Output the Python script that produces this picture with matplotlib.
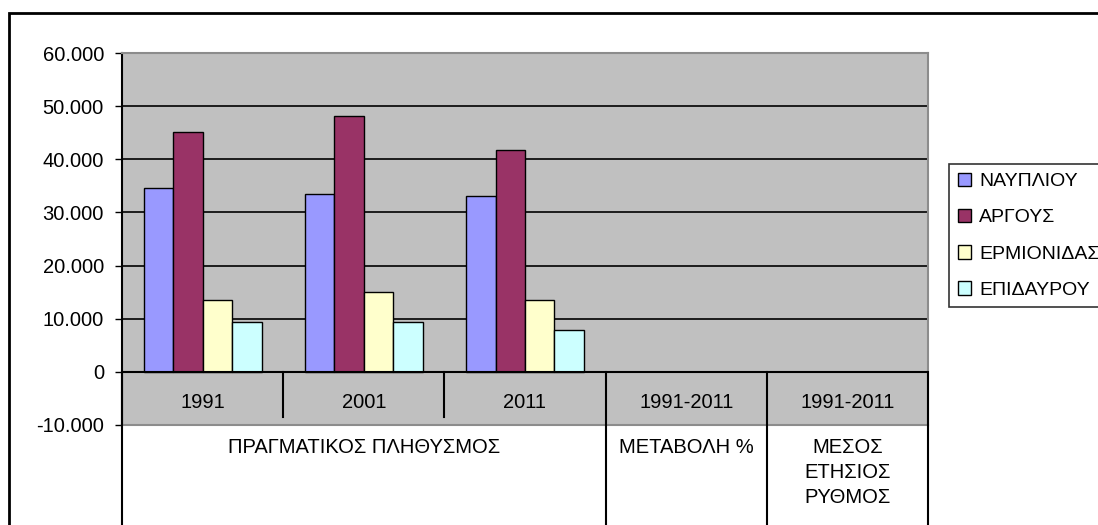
import numpy as np
import matplotlib
matplotlib.use("Agg")
import matplotlib.pyplot as plt
from matplotlib.patches import Rectangle, Patch

plt.rcParams['font.family'] = ['Liberation Sans', 'DejaVu Sans']

# data
years = ['1991', '2001', '2011']
cat_labels = ['1991', '2001', '2011', '1991-2011', '1991-2011']
groups = ['ΠΡΑΓΜΑΤΙΚΟΣ ΠΛΗΘΥΣΜΟΣ', 'ΜΕΤΑΒΟΛΗ %', 'ΜΕΣΟΣ\nΕΤΗΣΙΟΣ\nΡΥΘΜΟΣ']
group_span = [(0, 3), (3, 4), (4, 5)]
series = ['ΝΑΥΠΛΙΟΥ', 'ΑΡΓΟΥΣ', 'ΕΡΜΙΟΝΙΔΑΣ', 'ΕΠΙΔΑΥΡΟΥ']
nafplio = [34600, 33500, 33100]
argos = [45100, 48200, 41800]
ermionida = [13600, 15100, 13600]
epidavros = [9300, 9300, 7900]
values = [nafplio, argos, ermionida, epidavros]
colors = ['#9999FF', '#993366', '#FFFFCC', '#CCFFFF']

W, H = 1098, 525
fig = plt.figure(figsize=(W/100, H/100), dpi=100)
ax = fig.add_axes([122/W, 1-425/H, (928-122)/W, (425-53)/H])
ax.set_facecolor('#C0C0C0')

bw = 0.183
x = np.arange(len(years)) + 0.5
for i, (vals, c) in enumerate(zip(values, colors)):
    ax.bar(x + (i-1.5)*bw, vals, bw, color=c, edgecolor='black', linewidth=1, zorder=3)

ax.set_xlim(0, len(cat_labels))
ax.set_ylim(-10000, 60000)
yt = np.arange(-10000, 60001, 10000)
ax.set_yticks(yt)
ax.set_yticklabels([f"{int(v):,}".replace(",", ".") for v in yt], fontsize=14.5)
ax.tick_params(axis='y', length=5, width=1, pad=8, colors='black')
ax.set_xticks([])
for v in range(10000, 60000, 10000):
    ax.axhline(v, color='black', lw=1.2, zorder=1)
ax.axhline(0, color='black', lw=1.5, zorder=4)

for s in ['top', 'right', 'bottom']:
    ax.spines[s].set_color('#8C8C8C')
    ax.spines[s].set_linewidth(1.5)
ax.spines['left'].set_color('black')
ax.spines['left'].set_linewidth(1.5)

# first level category labels
for i, lab in enumerate(cat_labels):
    ax.text(i + 0.5, -5800, lab, ha='center', va='center', fontsize=14.5)
for i in [1, 2]:
    ax.plot([i, i], [0, -8500], color='black', lw=1.5, zorder=4)
tr = ax.get_xaxis_transform()
for i in [0, 3, 4, 5]:
    ax.plot([i, i], [0.1429, -0.5], color='black', lw=1.5, transform=tr,
            clip_on=False, zorder=4)

# second level labels
for lab, (a, b) in zip(groups, group_span):
    ax.text((a+b)/2, -0.035, lab, ha='center', va='top', fontsize=14.5,
            linespacing=1.4, transform=tr)

# legend
handles = [Patch(facecolor=c, edgecolor='black', linewidth=1) for c in colors]
leg = fig.legend(handles, series, loc='upper left',
                 bbox_to_anchor=(949/W, 1-164/H), fontsize=14,
                 frameon=True, fancybox=False, handlelength=0.7,
                 handleheight=0.7, handletextpad=0.4, labelspacing=0.95,
                 borderpad=0.45, borderaxespad=0)
leg.get_frame().set_edgecolor('black')
leg.get_frame().set_linewidth(1.2)

# outer chart border
fig.add_artist(Rectangle((9/W, -0.2), 1.2, 1.2 - 13/H, transform=fig.transFigure,
                         fill=False, edgecolor='black', lw=2))

fig.savefig('out.png', dpi=100)
